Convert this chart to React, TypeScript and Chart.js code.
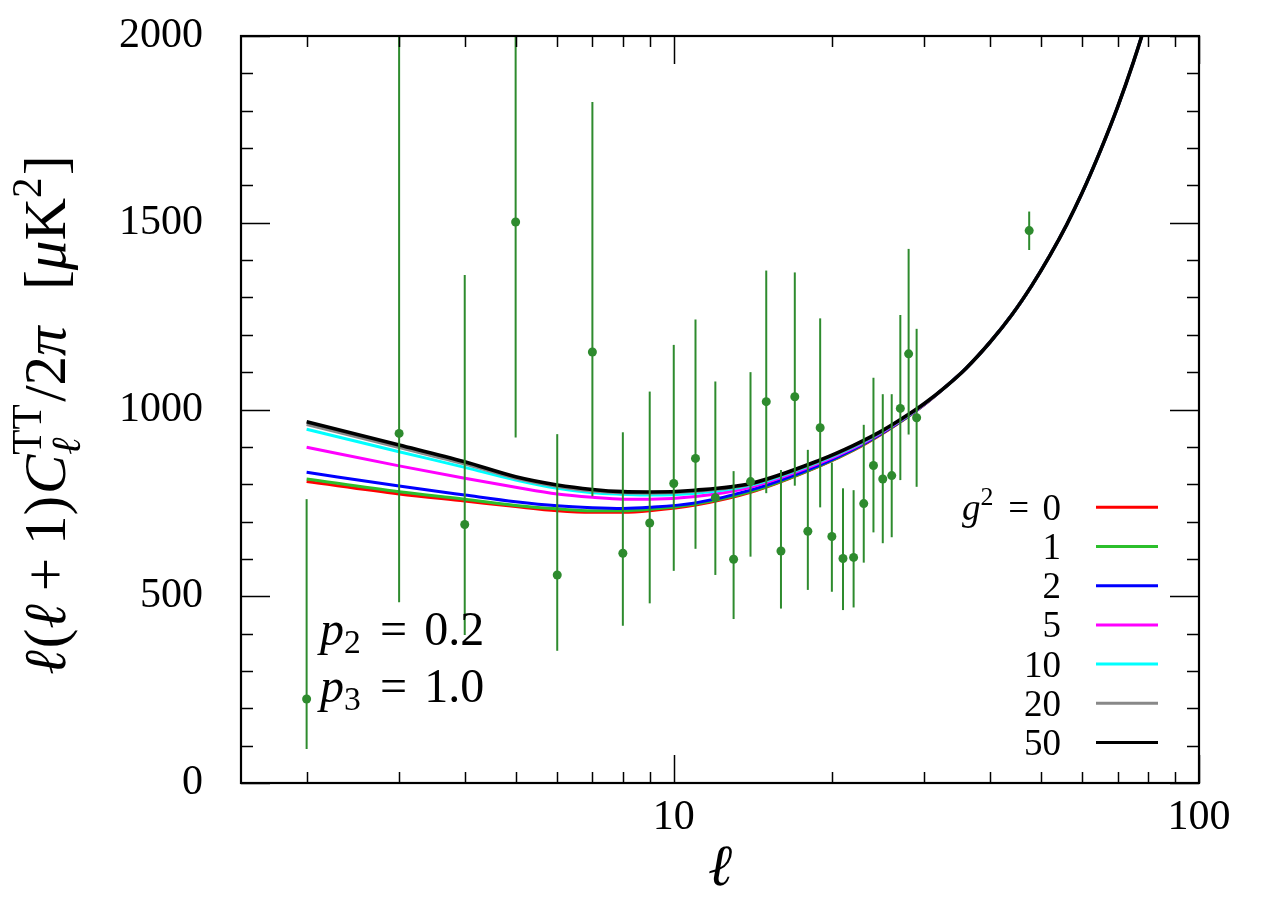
import React, { useEffect, useRef } from 'react';
import { Chart, registerables } from 'chart.js';

Chart.register(...registerables);

const FAMILY = '"Liberation Serif", "DejaVu Serif", "Times New Roman", serif';

// ---- legend / series definitions ----
const G2_VALUES = [0, 1, 2, 5, 10, 20, 50];
const CURVE_COLORS = ['#ff0000', '#2bbf2b', '#0000ff', '#ff00ff', '#00ffff', '#888888', '#000000'];
const CURVE_WIDTHS = [3, 3, 3, 3, 3, 3, 3.6];
const DATA_COLOR = '#2e8b2e';

// ---- theory curves (multipole ℓ grid) ----
const ELL_THEORY = [2, 3, 4, 5, 6, 7, 8, 9, 11, 14, 19, 22, 25, 28, 30, 33, 36, 40, 44, 48, 52, 56, 60, 65, 70, 75, 80, 85];
const CL_G0 = [807, 774, 755, 740, 729, 725, 725, 729, 744, 778, 849, 891, 936, 982, 1013, 1062, 1110, 1180, 1253, 1331, 1412, 1495, 1582, 1695, 1810, 1930, 2055, 2185];
const CL_G1 = [814, 780, 760, 743, 734, 729, 729, 733, 747, 780, 850, 892, 937, 982, 1013, 1062, 1110, 1180, 1253, 1331, 1412, 1495, 1582, 1695, 1810, 1930, 2055, 2185];
const CL_G2 = [832, 795, 771, 753, 742, 737, 735, 738, 750, 784, 852, 894, 938, 983, 1014, 1062, 1110, 1180, 1253, 1331, 1412, 1495, 1582, 1695, 1810, 1930, 2055, 2185];
const CL_G5 = [899, 849, 816, 792, 774, 765, 760, 760, 767, 792, 857, 897, 940, 984, 1014, 1062, 1110, 1180, 1253, 1331, 1412, 1495, 1582, 1695, 1810, 1930, 2055, 2185];
const CL_G10 = [947, 887, 845, 811, 789, 777, 773, 771, 776, 797, 861, 900, 942, 985, 1015, 1062, 1110, 1180, 1253, 1331, 1412, 1495, 1582, 1695, 1810, 1930, 2055, 2185];
const CL_G20 = [960, 898, 854, 816, 794, 782, 777, 776, 781, 800, 863, 902, 943, 986, 1015, 1062, 1110, 1180, 1253, 1331, 1412, 1495, 1582, 1695, 1810, 1930, 2055, 2185];
const CL_G50 = [967, 905, 860, 820, 798, 786, 780, 779, 784, 802, 865, 904, 944, 987, 1016, 1062, 1110, 1180, 1253, 1331, 1412, 1495, 1582, 1695, 1810, 1930, 2055, 2185];
const CURVES = [CL_G0, CL_G1, CL_G2, CL_G5, CL_G10, CL_G20, CL_G50];

// ---- measured data points with error bars ----
const ELL_DATA = [2, 3, 4, 5, 6, 7, 8, 9, 10, 11, 12, 13, 14, 15, 16, 17, 18, 19, 20, 21, 22, 23, 24, 25, 26, 27, 28, 29, 47.5];
const CL_DATA = [225, 936, 692, 1502, 557, 1154, 615, 696, 802, 869, 764, 599, 807, 1021, 621, 1034, 674, 951, 660, 601, 604, 748, 850, 814, 823, 1003, 1149, 978, 1479];
const ERR_LOW = [91, 484, 396, 925, 354, 768, 421, 481, 568, 627, 557, 439, 606, 776, 467, 796, 517, 738, 512, 463, 470, 590, 671, 642, 658, 811, 933, 793, 1427];
const ERR_HIGH = [760, 2400, 1360, 2400, 934, 1823, 939, 1048, 1173, 1241, 1075, 835, 1100, 1372, 838, 1367, 892, 1244, 858, 789, 784, 959, 1085, 1041, 1041, 1253, 1430, 1216, 1530];

// ---- axes ----
const X_MIN = 1.5;
const X_MAX = 100;
const Y_MIN = 0;
const Y_MAX = 2000;
const X_TICK_LABELS = [10, 100];
const X_MINOR = [2, 3, 4, 5, 6, 7, 8, 9, 20, 30, 40, 50, 60, 70, 80, 90];
const Y_STEP = 500;
const Y_MINOR_STEP = 100;

type Seg = { t?: string; it?: boolean; sup?: string; sub?: string; subIt?: boolean; subDy?: number; sp?: number };

function fontOf(it: boolean | undefined, size: number) {
  return `${it ? 'italic ' : ''}${size}px ${FAMILY}`;
}

function rich(ctx: CanvasRenderingContext2D, segs: Seg[], x: number, y: number, size: number, draw: boolean): number {
  let cx = x;
  const small = size * 0.7;
  for (const s of segs) {
    if (s.sp) { cx += s.sp * size; continue; }
    if (s.t !== undefined) {
      ctx.font = fontOf(s.it, size);
      if (draw) ctx.fillText(s.t, cx, y);
      cx += ctx.measureText(s.t).width;
      continue;
    }
    let w = 0;
    if (s.sup) {
      ctx.font = fontOf(false, small);
      if (draw) ctx.fillText(s.sup, cx, y - size * 0.4);
      w = Math.max(w, ctx.measureText(s.sup).width);
    }
    if (s.sub) {
      ctx.font = fontOf(s.subIt, small);
      const dy = s.subDy !== undefined ? s.subDy : 0.25;
      if (draw) ctx.fillText(s.sub, cx, y + size * dy);
      w = Math.max(w, ctx.measureText(s.sub).width);
    }
    cx += w + size * 0.04;
  }
  return cx - x;
}

const decorPlugin = {
  id: 'decor',
  afterDatasetsDraw(chart: any) {
    const { ctx, chartArea: a, scales } = chart;
    const x = scales.x, y = scales.y;
    ctx.save();
    ctx.beginPath();
    ctx.rect(a.left, a.top, a.right - a.left, a.bottom - a.top);
    ctx.clip();
    ctx.strokeStyle = DATA_COLOR;
    ctx.lineWidth = 2;
    ELL_DATA.forEach((l, i) => {
      const px = x.getPixelForValue(l);
      ctx.beginPath();
      ctx.moveTo(px, y.getPixelForValue(ERR_LOW[i]));
      ctx.lineTo(px, y.getPixelForValue(ERR_HIGH[i]));
      ctx.stroke();
    });
    ctx.restore();
  },
  afterDraw(chart: any) {
    const { ctx, chartArea: a, scales } = chart;
    const x = scales.x, y = scales.y;
    ctx.save();
    ctx.strokeStyle = '#000';
    ctx.fillStyle = '#000';
    // inward ticks
    ctx.lineWidth = 1.5;
    for (let v = Y_MIN; v <= Y_MAX; v += Y_MINOR_STEP) {
      const py = Math.round(y.getPixelForValue(v)) + 0.5;
      const len = v % Y_STEP === 0 ? 29 : 12;
      ctx.beginPath();
      ctx.moveTo(a.left, py); ctx.lineTo(a.left + len, py);
      ctx.moveTo(a.right, py); ctx.lineTo(a.right - len, py);
      ctx.stroke();
    }
    const xt = [...X_MINOR.map((v) => [v, 11]), ...X_TICK_LABELS.map((v) => [v, 28])];
    xt.forEach(([v, len]) => {
      const px = Math.round(x.getPixelForValue(v)) + 0.5;
      ctx.beginPath();
      ctx.moveTo(px, a.bottom); ctx.lineTo(px, a.bottom - len);
      ctx.moveTo(px, a.top); ctx.lineTo(px, a.top + len);
      ctx.stroke();
    });
    // frame
    ctx.lineWidth = 2.2;
    ctx.strokeRect(a.left, a.top, a.right - a.left, a.bottom - a.top);

    ctx.textBaseline = 'alphabetic';
    ctx.textAlign = 'left';

    // y axis title (rotated)
    const ySegs: Seg[] = [
      { t: 'ℓ', it: true }, { sp: 0.03 }, { t: '(' }, { t: 'ℓ', it: true }, { sp: 0.22 }, { t: '+' }, { sp: 0.22 }, { t: '1)' },
      { sp: 0.03 }, { t: 'C', it: true }, { sup: 'TT', sub: 'ℓ', subIt: true }, { t: '/2' }, { t: 'π', it: true },
      { sp: 0.62 }, { t: '[' }, { t: 'μ', it: true }, { t: 'K' }, { sup: '2' }, { t: ']' },
    ];
    const ySize = 59;
    const yw = rich(ctx, ySegs, 0, 0, ySize, false);
    ctx.save();
    ctx.translate(57, 407 + yw / 2);
    ctx.rotate(-Math.PI / 2);
    rich(ctx, ySegs, 0, 0, ySize, true);
    ctx.restore();

    // x axis title
    ctx.font = fontOf(true, 58);
    ctx.textAlign = 'center';
    ctx.fillText('ℓ', (a.left + a.right) / 2, 877);
    ctx.textAlign = 'left';

    // parameter annotation
    const eq = (v: string): Seg[] => [{ sp: 0.36 }, { t: '=' }, { sp: 0.36 }, { t: v }];
    rich(ctx, [{ t: 'p', it: true }, { sub: '2', subDy: 0.17 }, ...eq('0.2')], 312, 637, 48, true);
    rich(ctx, [{ t: 'p', it: true }, { sub: '3', subDy: 0.17 }, ...eq('1.0')], 312, 694, 48, true);

    // legend
    const lSize = 37;
    G2_VALUES.forEach((g, i) => {
      const cy = 499.3 + 39.2 * i;
      const segs: Seg[] = i === 0 ? [{ t: 'g', it: true }, { sup: '2' }, ...eq(String(g))] : [{ t: String(g) }];
      const w = rich(ctx, segs, 0, 0, lSize, false);
      ctx.fillStyle = '#000';
      rich(ctx, segs, 1053 - w, cy + 12.5, lSize, true);
      ctx.strokeStyle = CURVE_COLORS[i];
      ctx.lineWidth = 3;
      ctx.beginPath();
      ctx.moveTo(1088, cy); ctx.lineTo(1150, cy);
      ctx.stroke();
    });
    ctx.restore();
  },
};

export default function App() {
  const ref = useRef<HTMLCanvasElement>(null);
  useEffect(() => {
    const curveSets = CURVES.map((vals, i) => ({
      type: 'line' as const,
      label: `g² = ${G2_VALUES[i]}`,
      data: ELL_THEORY.map((l, j) => ({ x: l, y: vals[j] })),
      borderColor: CURVE_COLORS[i],
      backgroundColor: CURVE_COLORS[i],
      borderWidth: CURVE_WIDTHS[i],
      pointRadius: 0,
      fill: false,
      cubicInterpolationMode: 'monotone' as const,
      order: CURVES.length - i,
    }));
    const chart = new Chart(ref.current as HTMLCanvasElement, {
      type: 'line',
      data: {
        datasets: [
          {
            type: 'scatter' as const,
            label: 'data',
            data: ELL_DATA.map((l, i) => ({ x: l, y: CL_DATA[i] })),
            backgroundColor: DATA_COLOR,
            borderColor: DATA_COLOR,
            pointRadius: 4.5,
            pointBorderWidth: 0,
            order: 0,
          } as any,
          ...curveSets,
        ],
      },
      options: {
        animation: false,
        responsive: false,
        devicePixelRatio: 1,
        layout: { padding: { top: 28, right: 57, left: 0, bottom: 0 } },
        plugins: { legend: { display: false }, tooltip: { enabled: false } },
        scales: {
          x: {
            type: 'logarithmic',
            min: X_MIN,
            max: X_MAX,
            grid: { display: false, drawTicks: false },
            border: { display: false },
            afterBuildTicks: (s: any) => { s.ticks = X_TICK_LABELS.map((v) => ({ value: v })); },
            afterFit: (s: any) => { s.height = 109; s.paddingLeft = 0; s.paddingRight = 0; },
            ticks: {
              font: { family: FAMILY, size: 42 },
              color: '#000',
              padding: 10,
              maxRotation: 0,
              autoSkip: false,
              callback: (v: any) => String(v),
            },
          },
          y: {
            type: 'linear',
            min: Y_MIN,
            max: Y_MAX,
            grid: { display: false, drawTicks: false },
            border: { display: false },
            afterFit: (s: any) => { s.width = 233; s.paddingTop = 0; s.paddingBottom = 0; },
            ticks: {
              stepSize: Y_STEP,
              font: { family: FAMILY, size: 42 },
              color: '#000',
              padding: 38,
              callback: (v: any) => String(v),
            },
          },
        },
      } as any,
      plugins: [decorPlugin],
    });
    return () => chart.destroy();
  }, []);
  return <canvas ref={ref} width={1248} height={884} style={{ display: 'block' }} />;
}
